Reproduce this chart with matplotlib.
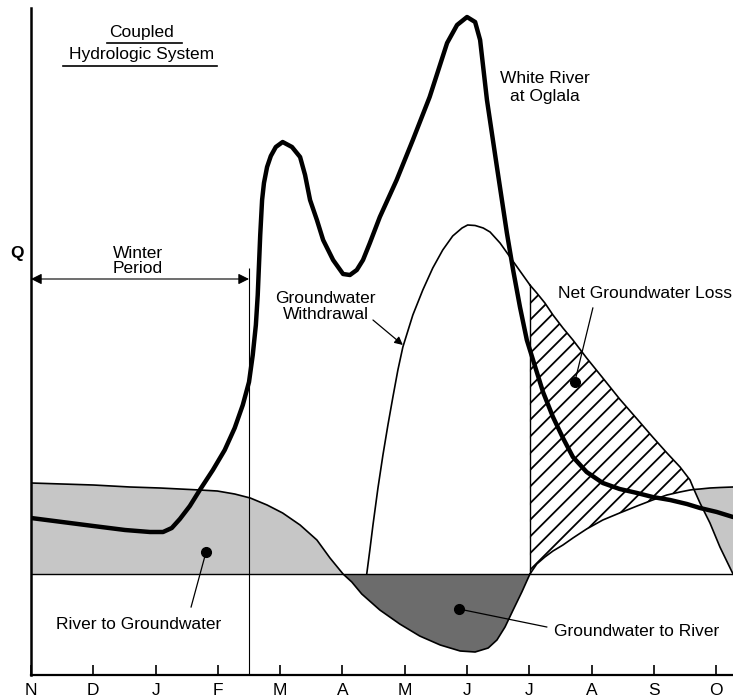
import numpy as np
import matplotlib
matplotlib.use("Agg")
import matplotlib.pyplot as plt

plt.rcParams['font.family'] = ['Liberation Sans', 'DejaVu Sans']
plt.rcParams['hatch.linewidth'] = 1.3

# months counted from November (0) to late October
month_labels = ['N', 'D', 'J', 'F', 'M', 'A', 'M', 'J', 'J', 'A', 'S', 'O']

# White River at Oglala (thick curve)
river_month = np.array([0.00, 0.50, 1.00, 1.51, 1.91, 2.12, 2.26, 2.39, 2.55, 2.71, 2.92,
                        3.11, 3.27, 3.40, 3.50, 3.56, 3.61, 3.64, 3.66, 3.68, 3.71, 3.74,
                        3.79, 3.85, 3.93, 4.04, 4.19, 4.32, 4.40, 4.48, 4.59, 4.69, 4.85,
                        5.01, 5.12, 5.23, 5.33, 5.44, 5.60, 5.87, 6.13, 6.40, 6.68, 6.84,
                        7.00, 7.13, 7.21, 7.32, 7.48, 7.56, 7.64, 7.74, 7.85, 7.96, 8.06,
                        8.22, 8.38, 8.54, 8.70, 8.92, 9.18, 9.45, 9.73, 9.98, 10.26, 10.53,
                        10.74, 11.01, 11.27])
river_q = np.array([0.56, 0.52, 0.48, 0.44, 0.42, 0.42, 0.46, 0.55, 0.68, 0.84, 1.04,
                    1.24, 1.46, 1.69, 1.92, 2.19, 2.49, 2.79, 3.09, 3.39, 3.74, 3.91,
                    4.07, 4.18, 4.27, 4.32, 4.27, 4.17, 3.99, 3.74, 3.54, 3.34, 3.14,
                    3.00, 2.99, 3.04, 3.14, 3.31, 3.57, 3.94, 4.34, 4.77, 5.31, 5.49,
                    5.57, 5.52, 5.34, 4.74, 4.07, 3.74, 3.41, 3.04, 2.67, 2.34, 2.14,
                    1.82, 1.57, 1.36, 1.17, 1.02, 0.91, 0.85, 0.81, 0.77, 0.74, 0.70,
                    0.66, 0.62, 0.57])

# river/groundwater exchange, November to early July
exch_month = np.array([0.00, 0.50, 1.00, 1.59, 2.07, 2.71, 2.99, 3.27, 3.52, 3.79, 4.04,
                       4.32, 4.59, 4.80, 5.01, 5.15, 5.31, 5.60, 5.92, 6.24, 6.57, 6.89,
                       7.13, 7.34, 7.48, 7.61, 7.74, 7.88, 8.01])
exch_q = np.array([0.91, 0.90, 0.89, 0.87, 0.86, 0.84, 0.83, 0.80, 0.76, 0.69, 0.61,
                   0.49, 0.34, 0.16, 0.00, -0.08, -0.20, -0.36, -0.50, -0.62, -0.71, -0.77,
                   -0.78, -0.74, -0.66, -0.53, -0.36, -0.18, 0.00])

# groundwater withdrawal, spring rise to early July
wd_month = np.array([5.39, 5.44, 5.49, 5.57, 5.65, 5.73, 5.81, 5.89, 5.97, 6.13, 6.29,
                     6.45, 6.61, 6.77, 6.92, 7.01, 7.13, 7.26, 7.37, 7.53, 7.69, 7.85,
                     8.01])
wd_q = np.array([0.00, 0.24, 0.49, 0.86, 1.19, 1.49, 1.77, 2.04, 2.27, 2.59, 2.84,
                 3.06, 3.24, 3.38, 3.46, 3.49, 3.485, 3.46, 3.42, 3.31, 3.17, 3.03,
                 2.89])

# July to October: exchange and withdrawal read at the same months
late_month = np.array([8.01, 8.12, 8.25, 8.38, 8.54, 8.70, 8.92, 9.18, 9.45, 9.73, 9.98,
                       10.21, 10.42, 10.58, 10.64, 10.74, 10.90, 11.06, 11.27])
late_exch = np.array([0.00, 0.10, 0.17, 0.23, 0.29, 0.36, 0.45, 0.54, 0.61, 0.68, 0.74,
                      0.79, 0.82, 0.84, 0.845, 0.85, 0.86, 0.865, 0.87])
late_wd = np.array([2.89, 2.81, 2.71, 2.59, 2.46, 2.34, 2.16, 1.96, 1.75, 1.55, 1.37,
                    1.21, 1.07, 0.94, 0.85, 0.71, 0.51, 0.27, 0.00])

LIGHT = '#c6c6c6'
DARK = '#6c6c6c'
FS = 12.5

fig = plt.figure(figsize=(7.33, 6.98), dpi=100)
ax = fig.add_axes([31 / 733, 23 / 698, 702 / 733, 667 / 698])
ax.set_xlim(0, 11.27)
ax.set_ylim(-1.01, 5.66)

for s in ['top', 'right']:
    ax.spines[s].set_visible(False)
ax.spines['left'].set_linewidth(1.8)
ax.spines['bottom'].set_linewidth(1.6)
ax.set_yticks([])
ax.set_xticks(range(len(month_labels)))
ax.set_xticklabels(month_labels)
ax.tick_params(axis='x', direction='in', length=7, width=1.2, pad=6, labelsize=FS)

# shaded exchange areas
ax.fill_between(exch_month, 0, exch_q, where=exch_q >= 0, interpolate=True,
                facecolor=LIGHT, edgecolor='none', zorder=1)
ax.fill_between(exch_month, 0, exch_q, where=exch_q <= 0, interpolate=True,
                facecolor=DARK, edgecolor='none', zorder=1)
ax.fill_between(late_month, late_wd, late_exch, where=late_exch >= late_wd, interpolate=True,
                facecolor=LIGHT, edgecolor='none', zorder=1)
# net groundwater loss (hatched)
ax.fill_between(late_month, late_exch, late_wd, where=late_wd >= late_exch, interpolate=True,
                facecolor='white', edgecolor='black', hatch='//', linewidth=0, zorder=1)

ax.axhline(0, color='black', lw=1.0, zorder=2)
ax.vlines(late_month[0], late_exch[0], late_wd[0], color='black', lw=1.0, zorder=2)

ax.plot(exch_month, exch_q, color='black', lw=1.2, zorder=3)
ax.plot(late_month, late_exch, color='black', lw=1.2, zorder=3)
ax.plot(wd_month, wd_q, color='black', lw=1.2, zorder=3)
ax.plot(late_month, late_wd, color='black', lw=1.2, zorder=3)
ax.plot(river_month, river_q, color='black', lw=3.2, solid_joinstyle='round',
        solid_capstyle='round', zorder=4)

# winter period
ax.vlines(3.50, -1.01, 3.06, color='black', lw=0.8, zorder=2)
ax.annotate('', xy=(0.0, 2.95), xytext=(3.50, 2.95),
            arrowprops=dict(arrowstyle='<|-|>', color='black', lw=0.8,
                            mutation_scale=16, shrinkA=0, shrinkB=0))
ax.text(1.72, 3.16, 'Winter', ha='center', va='baseline', fontsize=FS)
ax.text(1.72, 3.01, 'Period', ha='center', va='baseline', fontsize=FS)

# title block
ax.text(1.78, 5.37, 'Coupled', ha='center', va='baseline', fontsize=FS)
ax.plot([1.22, 2.42], [5.31, 5.31], color='black', lw=1.2)
ax.text(1.77, 5.15, 'Hydrologic System', ha='center', va='baseline', fontsize=FS)
ax.plot([0.51, 2.99], [5.08, 5.08], color='black', lw=1.2)

ax.text(-0.23, 3.16, 'Q', ha='center', va='baseline', fontsize=FS, fontweight='bold')

ax.text(8.25, 4.91, 'White River', ha='center', va='baseline', fontsize=FS)
ax.text(8.25, 4.73, 'at Oglala', ha='center', va='baseline', fontsize=FS)

ax.text(4.73, 2.71, 'Groundwater', ha='center', va='baseline', fontsize=FS)
ax.text(4.73, 2.55, 'Withdrawal', ha='center', va='baseline', fontsize=FS)
ax.annotate('', xy=(5.97, 2.29), xytext=(5.49, 2.54),
            arrowprops=dict(arrowstyle='-|>', color='black', lw=0.9,
                            mutation_scale=12, shrinkA=0, shrinkB=0))

ax.text(8.46, 2.76, 'Net Groundwater Loss', ha='left', va='baseline', fontsize=FS)
ax.plot([8.73, 9.02], [1.92, 2.66], color='black', lw=0.9, zorder=5)
ax.plot(8.73, 1.92, 'o', color='black', ms=7, zorder=5)

ax.text(1.73, -0.55, 'River to Groundwater', ha='center', va='baseline', fontsize=FS)
ax.plot([2.81, 2.57], [0.22, -0.33], color='black', lw=0.9, zorder=5)
ax.plot(2.81, 0.22, 'o', color='black', ms=7, zorder=5)

ax.text(9.72, -0.62, 'Groundwater to River', ha='center', va='baseline', fontsize=FS)
ax.plot([6.87, 8.28], [-0.35, -0.53], color='black', lw=0.9, zorder=5)
ax.plot(6.87, -0.35, 'o', color='black', ms=7, zorder=5)

fig.savefig('out.png', dpi=100)
